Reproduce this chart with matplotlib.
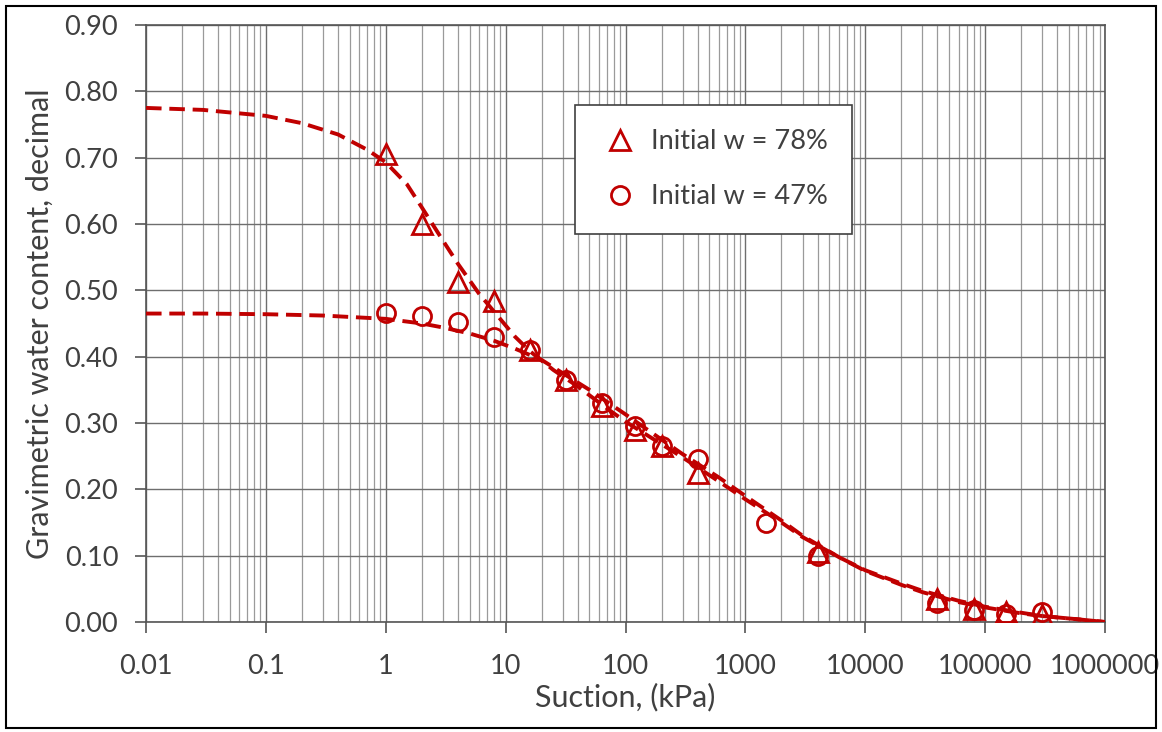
import matplotlib
matplotlib.use("Agg")
import matplotlib.pyplot as plt
from matplotlib.ticker import LogLocator, FixedLocator, NullFormatter
from matplotlib.patches import Rectangle

plt.rcParams['font.family'] = ['Lato', 'DejaVu Sans']

# Measured points
tri_suction = [1, 2, 4, 8, 16, 32, 64, 120, 200, 400, 4000, 40000, 80000, 150000, 300000]
tri_w = [0.705, 0.600, 0.512, 0.484, 0.410, 0.365, 0.325, 0.290, 0.265, 0.225, 0.105, 0.035, 0.020, 0.015, 0.010]
circ_suction = [1, 2, 4, 8, 16, 32, 64, 120, 200, 400, 1500, 4000, 40000, 80000, 150000, 300000]
circ_w = [0.466, 0.462, 0.452, 0.430, 0.410, 0.365, 0.330, 0.295, 0.265, 0.245, 0.150, 0.100, 0.028, 0.018, 0.012, 0.015]

# Fitted curves
fit1_suction = [0.01, 0.03, 0.1, 0.2, 0.4, 0.7, 1, 1.5, 2, 3, 4, 6, 8, 12, 16, 25, 40, 70, 100, 200, 300, 600,
                1000, 2000, 3000, 6000, 10000, 20000, 30000, 60000, 100000, 200000, 300000, 600000, 1000000]
fit1_w = [0.775, 0.772, 0.763, 0.752, 0.735, 0.712, 0.693, 0.660, 0.625, 0.575, 0.540, 0.495, 0.468, 0.430, 0.408,
          0.380, 0.355, 0.322, 0.302, 0.268, 0.248, 0.212, 0.185, 0.150, 0.128, 0.098, 0.078, 0.058, 0.047, 0.032,
          0.023, 0.014, 0.009, 0.004, 0.000]
fit2_suction = [0.01, 0.03, 0.1, 0.3, 1, 2, 3, 5, 8, 12, 20, 30, 50, 70, 100, 200, 300, 600,
                1000, 2000, 3000, 6000, 10000, 20000, 30000, 60000, 100000, 200000, 300000, 600000, 1000000]
fit2_w = [0.465, 0.465, 0.464, 0.462, 0.457, 0.450, 0.444, 0.435, 0.424, 0.412, 0.395, 0.375, 0.350, 0.332, 0.313,
          0.275, 0.253, 0.218, 0.190, 0.153, 0.130, 0.098, 0.077, 0.056, 0.045, 0.030, 0.022, 0.013, 0.009, 0.004, 0.000]

x_ticks = [0.01, 0.1, 1, 10, 100, 1000, 10000, 100000, 1000000]
x_labels = ["0.01", "0.1", "1", "10", "100", "1000", "10000", "100000", "1000000"]
y_ticks = [0.0, 0.1, 0.2, 0.3, 0.4, 0.5, 0.6, 0.7, 0.8, 0.9]
y_labels = ["0.00", "0.10", "0.20", "0.30", "0.40", "0.50", "0.60", "0.70", "0.80", "0.90"]

RED = '#C00000'
TXT = '#404040'

fig = plt.figure(figsize=(11.62, 7.32), dpi=100)
ax = fig.add_axes([146/1162, 1 - 622/732, (1105 - 146)/1162, (622 - 25)/732])

ax.plot(fit1_suction, fit1_w, linestyle=(0, (4, 2)), color=RED, lw=2.8, zorder=3)
ax.plot(fit2_suction, fit2_w, linestyle=(0, (4, 2)), color=RED, lw=2.8, zorder=3)
ax.plot(tri_suction, tri_w, linestyle='none', marker='^', markersize=14, markerfacecolor='none',
        markeredgecolor=RED, markeredgewidth=2.0, label='Initial w = 78%', zorder=4)
ax.plot(circ_suction, circ_w, linestyle='none', marker='o', markersize=13, markerfacecolor='none',
        markeredgecolor=RED, markeredgewidth=2.0, label='Initial w = 47%', zorder=4)

ax.set_xscale('log')
ax.set_xlim(0.01, 1000000)
ax.set_ylim(0, 0.9)
ax.xaxis.set_major_locator(FixedLocator(x_ticks))
ax.set_xticks(x_ticks)
ax.set_xticklabels(x_labels)
ax.xaxis.set_minor_locator(LogLocator(base=10, subs=range(2, 10), numticks=100))
ax.xaxis.set_minor_formatter(NullFormatter())
ax.set_yticks(y_ticks)
ax.set_yticklabels(y_labels)

ax.grid(True, which='major', axis='both', color='#6e6e6e', lw=1.0, zorder=0)
ax.grid(True, which='minor', axis='x', color='#9a9a9a', lw=0.9, zorder=0)
ax.tick_params(axis='both', which='major', direction='out', length=8, width=1.2, color='#555555',
               labelsize=19.5, labelcolor=TXT)
ax.tick_params(axis='y', which='major', pad=12)
ax.tick_params(axis='x', which='major', pad=15)
ax.tick_params(axis='x', which='minor', length=0)
for s in ax.spines.values():
    s.set_color('#555555')
    s.set_linewidth(1.2)

ax.set_xlabel('Suction, (kPa)', fontsize=22, color=TXT, labelpad=3)
ax.set_ylabel('Gravimetric water content, decimal', fontsize=22, color=TXT, labelpad=8)

leg = ax.legend(loc='upper left', bbox_to_anchor=((575 - 146)/959, (622 - 105)/597), fontsize=19.5,
                frameon=True, fancybox=False, edgecolor='#404040', framealpha=1, borderpad=0.9,
                labelspacing=1.1, handletextpad=0.4, handlelength=1.5, borderaxespad=0)
for t in leg.get_texts():
    t.set_color(TXT)
leg.get_frame().set_linewidth(1.2)

fig.patches.append(Rectangle((6/1162, 4/732), 1150/1162, 722/732, transform=fig.transFigure,
                             fill=False, edgecolor='black', lw=1.5))

fig.savefig('out.png', dpi=100)
